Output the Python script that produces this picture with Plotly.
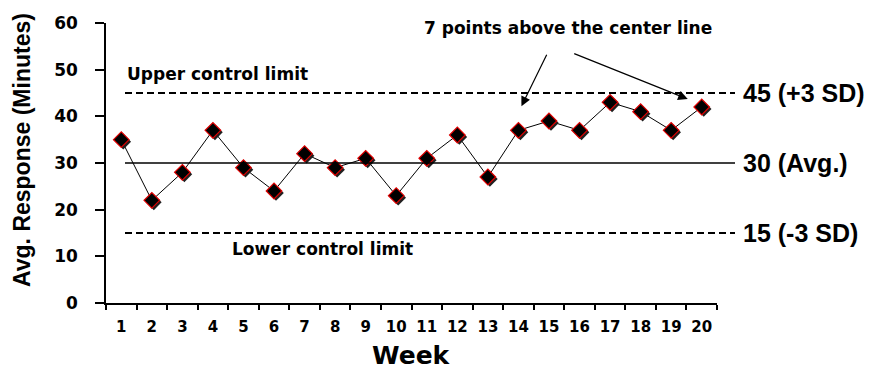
import plotly.graph_objects as go

# ---- data -------------------------------------------------------------
weeks = [str(i) for i in range(1, 21)]
avg_response = [35, 22, 28, 37, 29, 24, 32, 29, 31, 23,
                31, 36, 27, 37, 39, 37, 43, 41, 37, 42]
y_ticks = [0, 10, 20, 30, 40, 50, 60]

ucl = 45      # +3 SD
center = 30   # average
lcl = 15      # -3 SD

# ---- geometry ---------------------------------------------------------
W, H = 872, 371
M = dict(l=106, r=155, t=23, b=68)
plot_w = W - M["l"] - M["r"]
plot_h = H - M["t"] - M["b"]
Y_MAX = 60

px_per_cat = plot_w / len(weeks)
px_per_unit = plot_h / Y_MAX
shadow_px = 2
sx = shadow_px / px_per_cat
sy = shadow_px / px_per_unit

WIDE = "DejaVu Sans"
ARIAL = "Liberation Sans, Arial, sans-serif"


def font(family, size):
    return dict(family=family, size=size, color="black", weight="bold")


line_x0, line_x1 = 19 / plot_w, 1 + 18 / plot_w   # control lines in x-domain units

fig = go.Figure()

# connecting line
fig.add_trace(go.Scatter(x=weeks, y=avg_response, mode="lines",
                         line=dict(color="black", width=1),
                         hoverinfo="skip", xaxis="x", yaxis="y"))
# drop shadow of the markers (same data on slightly shifted hidden axes)
fig.add_trace(go.Scatter(x=weeks, y=avg_response, mode="markers",
                         marker=dict(symbol="diamond", size=12, color="#202020",
                                     line=dict(width=0)),
                         hoverinfo="skip", xaxis="x2", yaxis="y2"))
# markers
fig.add_trace(go.Scatter(x=weeks, y=avg_response, mode="markers",
                         marker=dict(symbol="diamond", size=12, color="black",
                                     line=dict(color="#e00000", width=1.2)),
                         xaxis="x3", yaxis="y3"))

axis_common = dict(showgrid=False, zeroline=False, showline=True,
                   linecolor="black", linewidth=1.5, ticks="outside",
                   tickcolor="black", tickwidth=1.5)

fig.update_layout(
    width=W, height=H, margin=M,
    paper_bgcolor="white", plot_bgcolor="white",
    showlegend=False,
    xaxis=dict(type="category", categoryorder="array", categoryarray=weeks,
               range=[-0.5, len(weeks) - 0.5], tickson="boundaries",
               ticklen=5, tickfont=font(WIDE, 15), ticklabelstandoff=9,
               **axis_common),
    yaxis=dict(range=[0, Y_MAX], tickvals=y_ticks, ticklen=9,
               tickfont=font(WIDE, 17), ticklabelstandoff=14,
               **axis_common),
    xaxis2=dict(type="category", categoryorder="array", categoryarray=weeks,
                overlaying="x", visible=False,
                range=[-0.5 - sx, len(weeks) - 0.5 - sx]),
    yaxis2=dict(overlaying="y", visible=False, range=[sy, Y_MAX + sy]),
    xaxis3=dict(type="category", categoryorder="array", categoryarray=weeks,
                overlaying="x", visible=False,
                range=[-0.5, len(weeks) - 0.5]),
    yaxis3=dict(overlaying="y", visible=False, range=[0, Y_MAX]),
)

# control limits and center line
for val, dash in [(ucl, "7px,4px"), (lcl, "7px,4px"), (center, "solid")]:
    fig.add_shape(type="line", xref="x domain", yref="y",
                  x0=line_x0, x1=line_x1, y0=val, y1=val,
                  line=dict(color="black", width=2 if dash != "solid" else 1.5,
                            dash=dash))

# right-hand labels for the three lines
for val, label in [(ucl, "45 (+3 SD)"), (center, "30 (Avg.)"), (lcl, "15 (-3 SD)")]:
    fig.add_annotation(text=label, xref="x domain", yref="y",
                       x=line_x1 + 6 / plot_w, y=val, xanchor="left",
                       yanchor="middle", showarrow=False, font=font(ARIAL, 25))

fig.add_annotation(text="Upper control limit", xref="x domain", yref="y",
                   x=line_x0, y=ucl, xanchor="left", yanchor="middle",
                   yshift=19, showarrow=False, font=font(WIDE, 17))
fig.add_annotation(text="Lower control limit", xref="x domain", yref="y",
                   x=(230 - M["l"]) / plot_w, y=lcl, xanchor="left",
                   yanchor="middle", yshift=-16, showarrow=False,
                   font=font(WIDE, 17))

fig.add_annotation(text="7 points above the center line", xref="paper",
                   yref="paper", x=(568 - M["l"]) / plot_w,
                   y=(M["t"] + plot_h - 28) / plot_h, xanchor="center",
                   yanchor="middle", showarrow=False, font=font(WIDE, 17))

# arrows pointing at the run of points above the center line
# (x given as category index so numeric-looking labels are not misread)
arrow_style = dict(showarrow=True, arrowhead=2, arrowsize=1.6, arrowwidth=1.2,
                   arrowcolor="black", axref="pixel", ayref="pixel", text="")
first, last = 13, 19
fig.add_annotation(x=first, y=avg_response[first], xref="x", yref="y",
                   xshift=3, yshift=24, ax=26, ay=-53, **arrow_style)
fig.add_annotation(x=last, y=avg_response[last], xref="x", yref="y",
                   xshift=-14, yshift=8, ax=-115, ay=-46, **arrow_style)

# axis titles
fig.add_annotation(text="Avg. Response (Minutes)", xref="paper", yref="paper",
                   x=(22 - M["l"]) / plot_w, y=(M["t"] + plot_h - 150) / plot_h,
                   xanchor="center", yanchor="middle", textangle=-90,
                   showarrow=False, font=font(ARIAL, 23))
fig.add_annotation(text="Week", xref="paper", yref="paper",
                   x=0.5, y=(M["t"] + plot_h - 355) / plot_h,
                   xanchor="center", yanchor="middle", showarrow=False,
                   font=font(WIDE, 25))

fig.write_html("out.html")
